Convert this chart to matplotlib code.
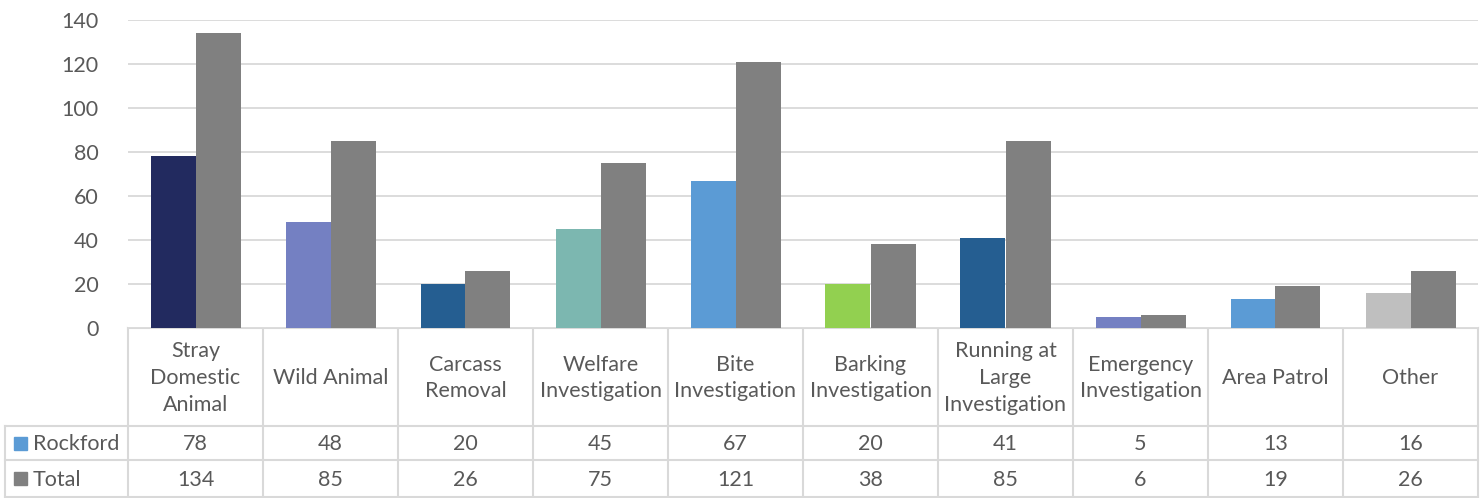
import matplotlib
matplotlib.use('Agg')
import matplotlib.pyplot as plt
import numpy as np

# data
categories = ['Stray\nDomestic\nAnimal', 'Wild Animal', 'Carcass\nRemoval', 'Welfare\nInvestigation',
              'Bite\nInvestigation', 'Barking\nInvestigation', 'Running at\nLarge\nInvestigation',
              'Emergency\nInvestigation', 'Area Patrol', 'Other']
rockford = [78, 48, 20, 45, 67, 20, 41, 5, 13, 16]
total = [134, 85, 26, 75, 121, 38, 85, 6, 19, 26]
series_names = ['Rockford', 'Total']

rock_colors = ['#222a5f', '#7480c2', '#255e91', '#7cb7b0', '#5b9bd5',
               '#92d050', '#255e91', '#7480c2', '#5b9bd5', '#bfbfbf']
total_color = '#808080'
legend_colors = ['#5b9bd5', total_color]

TXT = '#595959'
GRID = '#d9d9d9'
plt.rcParams['font.family'] = ['Lato', 'DejaVu Sans']
FS = 15.5

W, H = 1483, 498
fig = plt.figure(figsize=(W / 100, H / 100), dpi=100)

# pixel geometry of the plot area
x0, x1 = 128, 1478
y_top, y_zero = 20, 328
row1, row2, y_bot = 426, 460, 497
lbl_x0 = 5

ax = fig.add_axes([x0 / W, 1 - y_zero / H, (x1 - x0) / W, (y_zero - y_top) / H])
n = len(categories)
x = np.arange(n)
bw = 1 / 3
ax.bar(x - bw / 2, rockford, bw, color=rock_colors, zorder=3)
ax.bar(x + bw / 2, total, bw, color=total_color, zorder=3)
ax.set_xlim(-0.5, n - 0.5)
ax.set_ylim(0, 140)
ax.set_yticks(range(0, 141, 20))
ax.yaxis.grid(True, color=GRID, lw=1.3, zorder=0)
ax.set_xticks([])
for s in ax.spines.values():
    s.set_visible(False)
ax.tick_params(axis='y', length=0, labelsize=FS, labelcolor=TXT, pad=21)

# data table drawn in pixel coords
tb = fig.add_axes([0, 0, 1, 1], zorder=-1)
tb.set_xlim(0, W)
tb.set_ylim(H, 0)
tb.axis('off')
cw = (x1 - x0) / n
lc = dict(color=GRID, lw=1.5)
tb.plot([x0, x1], [y_zero, y_zero], **lc)
for i in range(n + 1):
    tb.plot([x0 + i * cw] * 2, [y_zero, y_bot], **lc)
tb.plot([lbl_x0, lbl_x0], [row1, y_bot], **lc)
for yy in (row1, row2, y_bot):
    tb.plot([lbl_x0, x1], [yy, yy], **lc)

for i, cat in enumerate(categories):
    cx = x0 + (i + 0.5) * cw
    tb.text(cx, (y_zero + row1) / 2 + 1, cat, ha='center', va='center', fontsize=FS,
            color=TXT, linespacing=1.42)
    tb.text(cx, (row1 + row2) / 2 + 1, str(rockford[i]), ha='center', va='center', fontsize=FS, color=TXT)
    tb.text(cx, (row2 + y_bot) / 2 + 1, str(total[i]), ha='center', va='center', fontsize=FS, color=TXT)

for name, col, (ya, yb) in zip(series_names, legend_colors, [(row1, row2), (row2, y_bot)]):
    yc = (ya + yb) / 2
    tb.add_patch(plt.Rectangle((14, yc - 6.5), 13, 13, color=col))
    tb.text(33, yc + 1, name, ha='left', va='center', fontsize=FS, color=TXT)

fig.savefig('out.png', dpi=100)
